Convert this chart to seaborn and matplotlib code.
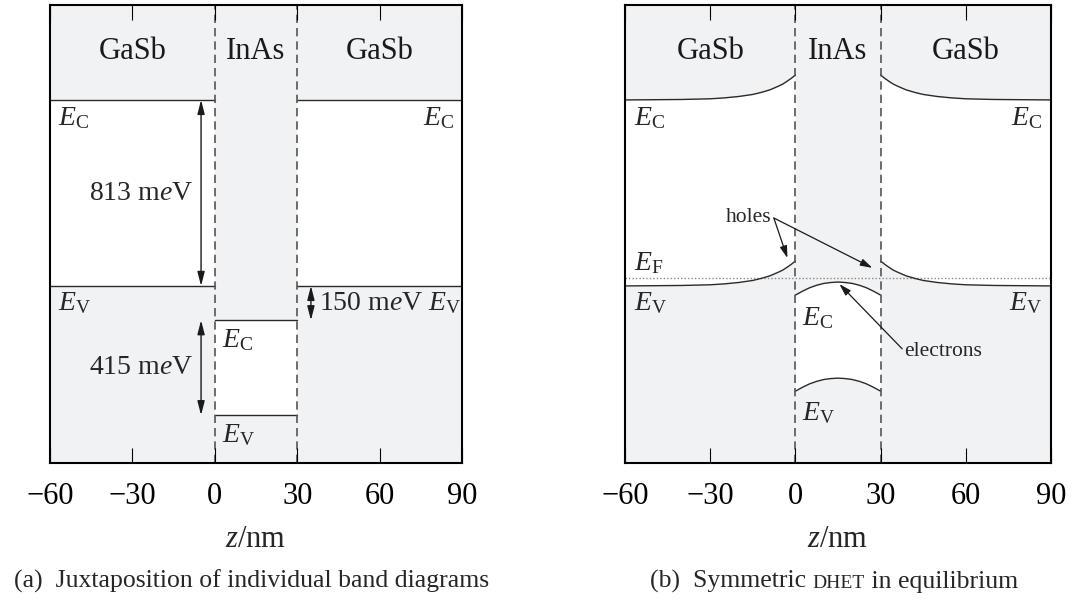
import numpy as np
import matplotlib
matplotlib.use("Agg")
import matplotlib.pyplot as plt
import seaborn as sns

# ---------------- data ----------------
z_ticks = [-60, -30, 0, 30, 60, 90]
z_gasb_left = [-60, 0]
z_inas = [0, 30]
z_gasb_right = [30, 90]
E_lim = [-774, 1228]

# panel (a): individual band edges (meV, GaSb valence band edge = 0)
Ec_gasb = 813
Ev_gasb = 0
Ec_inas = -150
Ev_inas = -565

# panel (b): band bending (meV)
z_bend_left = [-60, -50, -40, -30, -25, -20, -15, -12, -9, -6, -4.5, -3, -1.5, 0]
dE_bend_left = [0, 1, 2, 5, 9, 15, 24, 33, 44, 60, 69, 81, 94, 109]
z_bend_right = [30, 31.5, 33, 34.5, 36, 39, 42, 45, 50, 55, 60, 70, 80, 90]
dE_bend_right = [109, 94, 81, 69, 60, 44, 33, 24, 15, 9, 5, 2, 1, 0]
z_inas_b = [0, 2.5, 5, 7.5, 10, 12.5, 15, 17.5, 20, 22.5, 25, 27.5, 30]
Ec_inas_b = [-40, -23, -8, 3, 11, 15, 17, 15, 11, 3, -8, -23, -40]
Ev_inas_b = [-460, -443, -428, -417, -409, -405, -403, -405, -409, -417, -428, -443, -460]
E_F = 35

materials = ["GaSb", "InAs", "GaSb"]
material_z = [-30, 15, 60]

# ---------------- style ----------------
sns.set_theme(style="white")
plt.rcParams["font.family"] = ["Liberation Serif", "DejaVu Serif"]
plt.rcParams["mathtext.fontset"] = "custom"
plt.rcParams["mathtext.rm"] = "Liberation Serif"
plt.rcParams["mathtext.it"] = "Liberation Serif:italic"
plt.rcParams["mathtext.bf"] = "Liberation Serif:bold"
plt.rcParams["xtick.bottom"] = True
plt.rcParams["xtick.top"] = True
plt.rcParams["xtick.direction"] = "in"
plt.rcParams["xtick.major.size"] = 11
plt.rcParams["xtick.major.width"] = 0.8
plt.rcParams["xtick.color"] = "black"

GRAY = "#f1f2f4"
LINE = "#2a2a2a"
DASH = "#555555"
FS = 22
FS_LAB = 20

fig = plt.figure(figsize=(10.73, 6.01), dpi=100)
W, H = 1073, 601
axA = fig.add_axes([50 / W, (H - 463) / H, 412 / W, 458 / H])
axB = fig.add_axes([625 / W, (H - 463) / H, 426 / W, 458 / H])


def setup(ax):
    ax.set_xlim(z_ticks[0], z_ticks[-1])
    ax.set_ylim(*E_lim)
    ax.set_yticks([])
    for s in ax.spines.values():
        s.set_color("black")
        s.set_linewidth(1.5)
        s.set_zorder(6)
    ax.set_facecolor("white")
    for z in z_inas:
        ax.axvline(z, color=DASH, lw=1.2, dashes=(5, 3), zorder=4)
    for name, zc in zip(materials, material_z):
        ax.text(zc, 1023, name, ha="center", va="center", fontsize=FS, color="#1a1a1a", zorder=5)


def finish(ax):
    ax.set_xlim(z_ticks[0], z_ticks[-1])
    ax.set_xticks(z_ticks)
    ax.set_xticklabels([f"{t}".replace("-", "\u2212") for t in z_ticks])
    ax.tick_params(axis="x", which="major", direction="in", length=11, width=0.8,
                   top=True, bottom=True, labeltop=False, labelbottom=True,
                   labelsize=FS, pad=14, color="black", labelcolor="black")
    ax.set_axisbelow(False)
    ax.xaxis.set_zorder(7)
    ax.set_xlabel(r"$z$/nm", fontsize=FS, labelpad=10)
    ax.set_ylabel("Energy", fontsize=FS, labelpad=8)


def band(ax, z, ec, ev):
    z = np.asarray(z, float)
    ec = np.broadcast_to(np.asarray(ec, float), z.shape)
    ev = np.broadcast_to(np.asarray(ev, float), z.shape)
    ax.fill_between(z, ec, E_lim[1], color=GRAY, lw=0, zorder=1)
    ax.fill_between(z, E_lim[0], ev, color=GRAY, lw=0, zorder=1)
    sns.lineplot(x=z, y=ec, ax=ax, color=LINE, lw=1.0, sort=False, zorder=3)
    sns.lineplot(x=z, y=ev, ax=ax, color=LINE, lw=1.0, sort=False, zorder=3)


# ---------------- panel (a) ----------------
setup(axA)
band(axA, z_gasb_left, Ec_gasb, Ev_gasb)
band(axA, z_gasb_right, Ec_gasb, Ev_gasb)
band(axA, z_inas, Ec_inas, Ev_inas)

arw = dict(arrowstyle="<|-|>,head_length=0.7,head_width=0.18", color="#1a1a1a", lw=1.0,
           shrinkA=0, shrinkB=0)
axA.annotate("", xy=(-5, Ec_gasb), xytext=(-5, Ev_gasb), arrowprops=arw, zorder=5)
axA.annotate("", xy=(-5, Ec_inas), xytext=(-5, Ev_inas), arrowprops=arw, zorder=5)
axA.annotate("", xy=(35, Ev_gasb), xytext=(35, Ec_inas), arrowprops=arw, zorder=5)
axA.text(-8, 406, r"813 m$e$V", ha="right", va="center", fontsize=FS_LAB)
axA.text(-8, -358, r"415 m$e$V", ha="right", va="center", fontsize=FS_LAB)
axA.text(38, -74, r"150 m$e$V $E_\mathrm{V}$", ha="left", va="center", fontsize=FS_LAB)
axA.text(-57, 734, r"$E_\mathrm{C}$", ha="left", va="center", fontsize=FS_LAB)
axA.text(87, 734, r"$E_\mathrm{C}$", ha="right", va="center", fontsize=FS_LAB)
axA.text(-57, -74, r"$E_\mathrm{V}$", ha="left", va="center", fontsize=FS_LAB)
axA.text(2.5, -236, r"$E_\mathrm{C}$", ha="left", va="center", fontsize=FS_LAB)
axA.text(2.5, -651, r"$E_\mathrm{V}$", ha="left", va="center", fontsize=FS_LAB)
finish(axA)

# ---------------- panel (b) ----------------
setup(axB)
band(axB, z_bend_left, [Ec_gasb + d for d in dE_bend_left], [Ev_gasb + d for d in dE_bend_left])
band(axB, z_bend_right, [Ec_gasb + d for d in dE_bend_right], [Ev_gasb + d for d in dE_bend_right])
band(axB, z_inas_b, Ec_inas_b, Ev_inas_b)
sns.lineplot(x=[z_ticks[0], z_ticks[-1]], y=[E_F, E_F], ax=axB, color="#8a8a8a", lw=1.0,
             linestyle=(0, (1, 1.5)), zorder=2)

axB.text(-57, 734, r"$E_\mathrm{C}$", ha="left", va="center", fontsize=FS_LAB)
axB.text(87, 734, r"$E_\mathrm{C}$", ha="right", va="center", fontsize=FS_LAB)
axB.text(-57, -74, r"$E_\mathrm{V}$", ha="left", va="center", fontsize=FS_LAB)
axB.text(87, -74, r"$E_\mathrm{V}$", ha="right", va="center", fontsize=FS_LAB)
axB.text(-57, 100, r"$E_\mathrm{F}$", ha="left", va="center", fontsize=FS_LAB)
axB.text(2.5, -140, r"$E_\mathrm{C}$", ha="left", va="center", fontsize=FS_LAB)
axB.text(2.5, -555, r"$E_\mathrm{V}$", ha="left", va="center", fontsize=FS_LAB)

sarw = dict(arrowstyle="-|>,head_length=0.6,head_width=0.18", color="#1a1a1a", lw=0.9,
            shrinkA=0, shrinkB=0)
axB.text(-8.5, 297, "holes", ha="right", va="center", fontsize=15.5)
axB.annotate("", xy=(-2.8, 122), xytext=(-7.6, 297), arrowprops=sarw, zorder=5)
axB.annotate("", xy=(27.1, 79), xytext=(-7.6, 297), arrowprops=sarw, zorder=5)
axB.text(38.4, -288, "electrons", ha="left", va="center", fontsize=15.5)
axB.annotate("", xy=(15.5, 8), xytext=(37.6, -275), arrowprops=sarw, zorder=5)
finish(axB)

# ---------------- captions ----------------
fig.text(252 / W, 1 - 588 / H, "(a)  Juxtaposition of individual band diagrams",
         ha="center", va="baseline", fontsize=18.5)

renderer = fig.canvas.get_renderer()
parts = [("(b)  Symmetric ", 18.5), ("DHET", 14), (" in equilibrium", 18.5)]
objs = [fig.text(0, 0, txt, ha="left", va="baseline", fontsize=fs) for txt, fs in parts]
widths = [o.get_window_extent(renderer).width for o in objs]
x0 = 834 - sum(widths) / 2
for o, w in zip(objs, widths):
    o.set_position((x0 / W, 1 - 588 / H))
    x0 += w

fig.savefig("out.png", dpi=100)
